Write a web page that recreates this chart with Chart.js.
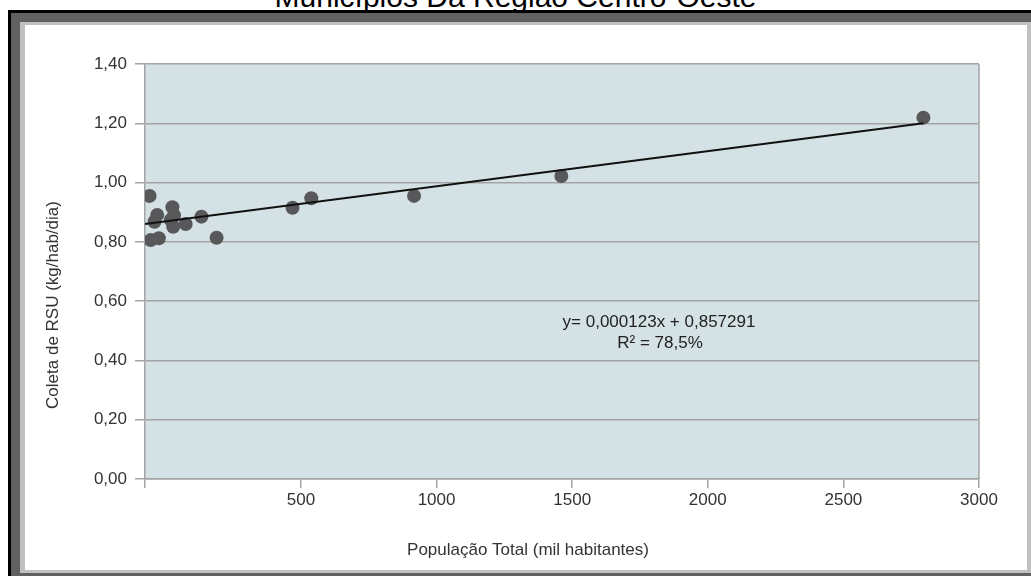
<!DOCTYPE html>
<html>
<head>
<meta charset="utf-8">
<script src="https://cdn.jsdelivr.net/npm/chart.js@4.4.0/dist/chart.umd.min.js"></script>
<style>
    html, body { margin: 0; padding: 0; width: 1031px; height: 576px; overflow: hidden; background: #fff; }
    body { position: relative; font-family: "Liberation Sans", Arial, sans-serif; }
    #title { position: absolute; left: 0; top: -18px; width: 1031px; text-align: center; font-size: 30px; line-height: 30px; color: #000; }
    .box { position: absolute; }
    #b1 { left: 8px; top: 10px; right: 0; bottom: 0; background: #000; }
    #b2 { left: 11px; top: 13px; right: 0; bottom: 0; background: #616161; }
    #b3 { left: 20px; top: 22px; right: 0; height: 551px; background: #c0c0c0; }
    #b4 { left: 25px; top: 25px; width: 1002px; height: 545px; background: #fff; }
    #chart { position: absolute; left: 0; top: 0; }
</style>
</head>
<body>
<div id="title">Municípios Da Região Centro-Oeste</div>
<div class="box" id="b1"></div>
<div class="box" id="b2"></div>
<div class="box" id="b3"></div>
<div class="box" id="b4"><canvas id="chart" width="1002" height="545"></canvas></div>
<script>
// values (x in mil habitantes, y in kg/hab/dia)
const populacao = [-58, -54, -40, -30, -24, 20, 26, 32, 29, 75, 133, 189, 469, 538, 917, 1460, 2795];
const coleta = [0.955, 0.806, 0.868, 0.891, 0.812, 0.874, 0.917, 0.889, 0.851, 0.860, 0.885, 0.814, 0.915, 0.947, 0.955, 1.022, 1.219];

// trend line end points as drawn
const tendenciaX = [-75, 2795];
const tendenciaY = [0.86, 1.20];

const xTicks = [-75, 500, 1000, 1500, 2000, 2500, 3000];
const xTickLabels = ["", "500", "1000", "1500", "2000", "2500", "3000"];
const yTicks = [0, 0.2, 0.4, 0.6, 0.8, 1.0, 1.2, 1.4];
const yTickLabels = ["0,00", "0,20", "0,40", "0,60", "0,80", "1,00", "1,20", "1,40"];

const FONT = "'Liberation Sans', Arial, sans-serif";
const GRID = "#a3a3a3";

const plotDecor = {
    id: "plotDecor",
    beforeDraw(chart) {
        const { ctx, chartArea: a } = chart;
        ctx.save();
        ctx.fillStyle = "#d5e2e5";
        ctx.fillRect(a.left, a.top, a.right - a.left, a.bottom - a.top);
        ctx.strokeStyle = GRID;
        ctx.lineWidth = 1.5;
        ctx.beginPath();
        ctx.moveTo(a.right, a.top);
        ctx.lineTo(a.right, a.bottom);
        ctx.stroke();
        ctx.restore();
    },
    afterDraw(chart) {
        const ctx = chart.ctx;
        ctx.save();
        ctx.fillStyle = "#333";
        ctx.font = "17px " + FONT;
        ctx.textAlign = "center";
        ctx.textBaseline = "middle";
        // axis titles
        ctx.fillText("População Total (mil habitantes)", 503, 525);
        ctx.save();
        ctx.translate(28, 280);
        ctx.rotate(-Math.PI / 2);
        ctx.fillText("Coleta de RSU (kg/hab/dia)", 0, 0);
        ctx.restore();
        // equation
        ctx.fillStyle = "#222";
        ctx.fillText("y= 0,000123x + 0,857291", 634, 297);
        ctx.fillText("R² = 78,5%", 635, 318);
        ctx.restore();
    },
};

new Chart(document.getElementById("chart"), {
    type: "scatter",
    data: {
        datasets: [
            {
                type: "line",
                data: tendenciaX.map((x, i) => ({ x: x, y: tendenciaY[i] })),
                borderColor: "#111",
                borderWidth: 2,
                pointRadius: 0,
                order: 0,
            },
            {
                data: populacao.map((x, i) => ({ x: x, y: coleta[i] })),
                backgroundColor: "#58585a",
                borderWidth: 0,
                pointRadius: 7,
                order: 1,
            },
        ],
    },
    options: {
        responsive: false,
        animation: false,
        layout: { padding: { left: 0, top: 39, right: 48, bottom: 0 } },
        plugins: {
            legend: { display: false },
            tooltip: { enabled: false },
        },
        scales: {
            x: {
                type: "linear",
                min: -75,
                max: 3000,
                afterBuildTicks: (s) => { s.ticks = xTicks.map((v) => ({ value: v })); },
                afterFit: (s) => { s.height = 91; },
                ticks: {
                    callback: (v, i) => xTickLabels[i],
                    autoSkip: false,
                    maxRotation: 0,
                    padding: 2,
                    color: "#333",
                    font: { family: FONT, size: 17 },
                },
                grid: { drawOnChartArea: false, drawTicks: true, tickLength: 9, color: GRID, lineWidth: 1.5 },
                border: { color: GRID, width: 1.5 },
            },
            y: {
                min: 0,
                max: 1.4,
                afterBuildTicks: (s) => { s.ticks = yTicks.map((v) => ({ value: v })); },
                afterFit: (s) => { s.width = 120; },
                ticks: {
                    callback: (v, i) => yTickLabels[i],
                    padding: 8,
                    color: "#333",
                    font: { family: FONT, size: 17 },
                },
                grid: { tickLength: 10, color: GRID, lineWidth: 1.5 },
                border: { color: GRID, width: 1.5 },
            },
        },
    },
    plugins: [plotDecor],
});
</script>
</body>
</html>
